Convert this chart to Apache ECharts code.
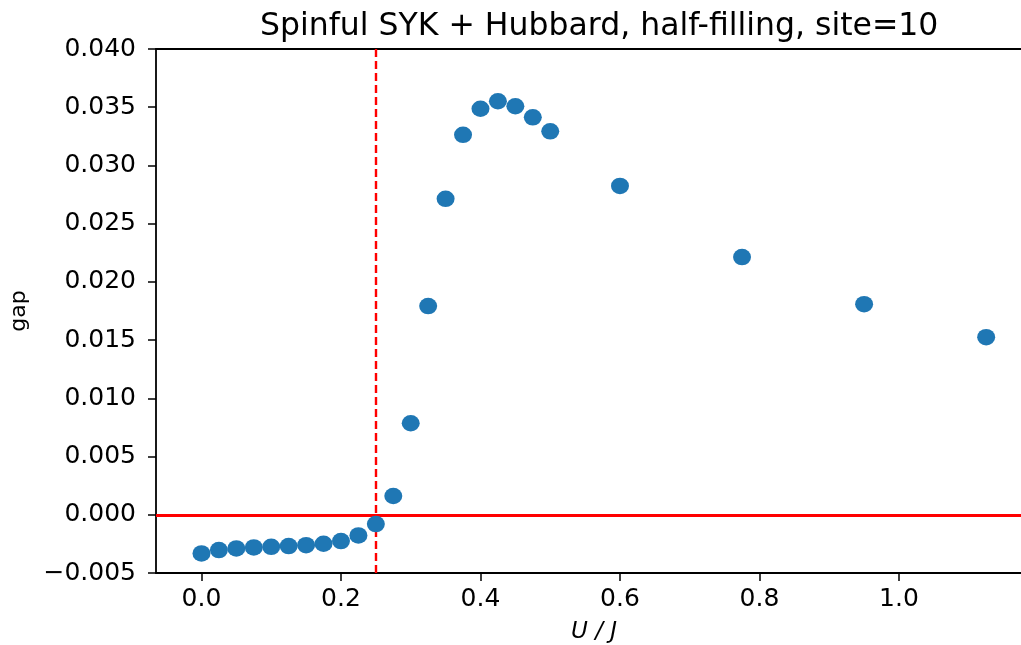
<!DOCTYPE html>
<html>
<head>
<meta charset="utf-8">
<script src="https://cdn.jsdelivr.net/npm/echarts@6/dist/echarts.min.js"></script>
<style>html,body{margin:0;padding:0;background:#fff}#c{width:1021px;height:645px}</style>
</head>
<body>
<div id="c"></div>
<script>
const titleText = 'Spinful SYK + Hubbard, half-filling, site=10';
const xName = 'U / J';
const yName = 'gap';
const uValues = [0, 0.025, 0.05, 0.075, 0.1, 0.125, 0.15, 0.175, 0.2, 0.225, 0.25, 0.275, 0.3, 0.325, 0.35, 0.375, 0.4, 0.425, 0.45, 0.475, 0.5, 0.6, 0.775, 0.95, 1.125];
const gapValues = [-0.00332, -0.00303, -0.00289, -0.0028, -0.00275, -0.00269, -0.00261, -0.00249, -0.00226, -0.00177, -0.0008, 0.00161, 0.00786, 0.01792, 0.02713, 0.03263, 0.03487, 0.03551, 0.03508, 0.03413, 0.03293, 0.02824, 0.02213, 0.01809, 0.01525];
const xTicks = [0.0, 0.2, 0.4, 0.6, 0.8, 1.0];
const yTicks = [-0.005, 0.000, 0.005, 0.010, 0.015, 0.020, 0.025, 0.030, 0.035, 0.040];
const zeroLine = 0;
const criticalU = 0.246;

const chart = echarts.init(document.getElementById('c'), null, {renderer: 'canvas'});
const font = 'DejaVu Sans';
const pts = uValues.map((u, i) => [u, gapValues[i]]);
chart.setOption({
  animation: false,
  backgroundColor: '#ffffff',
  title: {
    text: titleText,
    left: 255, top: 6,
    textStyle: {fontFamily: font, fontSize: 31.5, fontWeight: 'normal', color: '#000'}
  },
  grid: {left: 156, top: 49, bottom: 72, right: -11, containLabel: false, outerBoundsMode: 'none'},
  xAxis: [{
    type: 'value', min: -0.0652, max: 1.1907,
    name: xName, nameLocation: 'middle', nameGap: 48,
    nameTextStyle: {fontFamily: font, fontSize: 23, fontStyle: 'italic', color: '#000'},
    axisLine: {show: true, onZero: false, lineStyle: {color: '#000', width: 1.8}},
    axisTick: {show: true, length: 8, customValues: xTicks, lineStyle: {color: '#000', width: 1.5}},
    axisLabel: {customValues: xTicks, margin: 14, fontFamily: font, fontSize: 25, color: '#000',
      formatter: v => v.toFixed(1)},
    splitLine: {show: false}
  }, {
    type: 'value', position: 'top', min: -0.0652, max: 1.1907,
    axisLine: {show: true, onZero: false, lineStyle: {color: '#000', width: 1.8}},
    axisTick: {show: false}, axisLabel: {show: false}, splitLine: {show: false}
  }],
  yAxis: {
    type: 'value', min: -0.005, max: 0.040, interval: 0.005,
    name: yName, nameLocation: 'middle', nameGap: 126, nameRotate: 90,
    nameTextStyle: {fontFamily: font, fontSize: 22, color: '#000'},
    axisLine: {show: true, onZero: false, lineStyle: {color: '#000', width: 1.8}},
    axisTick: {show: true, length: 8, lineStyle: {color: '#000', width: 1.5}},
    axisLabel: {margin: 20, fontFamily: font, fontSize: 25, color: '#000',
      formatter: v => (v < 0 ? '\u2212' : '') + Math.abs(v).toFixed(3)},
    splitLine: {show: false}
  },
  series: [{
    type: 'scatter',
    data: pts,
    symbol: 'circle',
    symbolSize: [18, 16.5],
    itemStyle: {color: '#1f77b4', opacity: 1},
    z: 3,
    markLine: {
      silent: true, symbol: 'none', label: {show: false},
      z: 2,
      data: [
        {yAxis: zeroLine, lineStyle: {color: '#ff0000', width: 3, type: 'solid'}},
        {xAxis: criticalU, lineStyle: {color: '#ff0000', width: 2.4, type: [8, 4]}}
      ]
    }
  }]
});
</script>
</body>
</html>
